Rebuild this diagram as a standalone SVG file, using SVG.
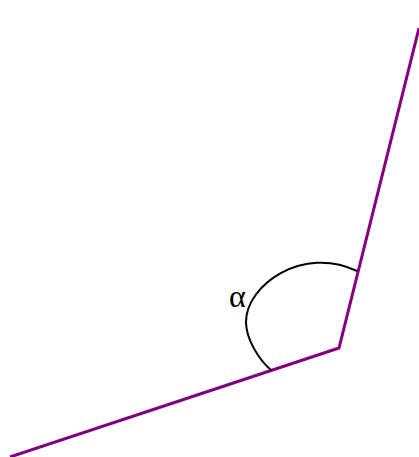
<svg xmlns="http://www.w3.org/2000/svg" width="419" height="457" viewBox="0 0 419 457">
<style>
.side{fill:none;stroke:#800080;stroke-width:3;stroke-linecap:butt;stroke-linejoin:miter}
.arc{fill:none;stroke:#000;stroke-width:2}
.lbl{font-family:"Liberation Serif","Times New Roman",serif;font-size:32px;fill:#000}
</style>
<rect width="419" height="457" fill="#fff"/>
<g id="connectors">
<polyline class="side" points="10,457 339,348 419,28"/>
</g>
<g id="angle">
<path class="arc" d="M357,271 C303,245 246,285 246,322 C246,338 258,359 271,370"/>
</g>
<g id="label">
<text class="lbl" x="229" y="307">α</text>
</g>
</svg>
